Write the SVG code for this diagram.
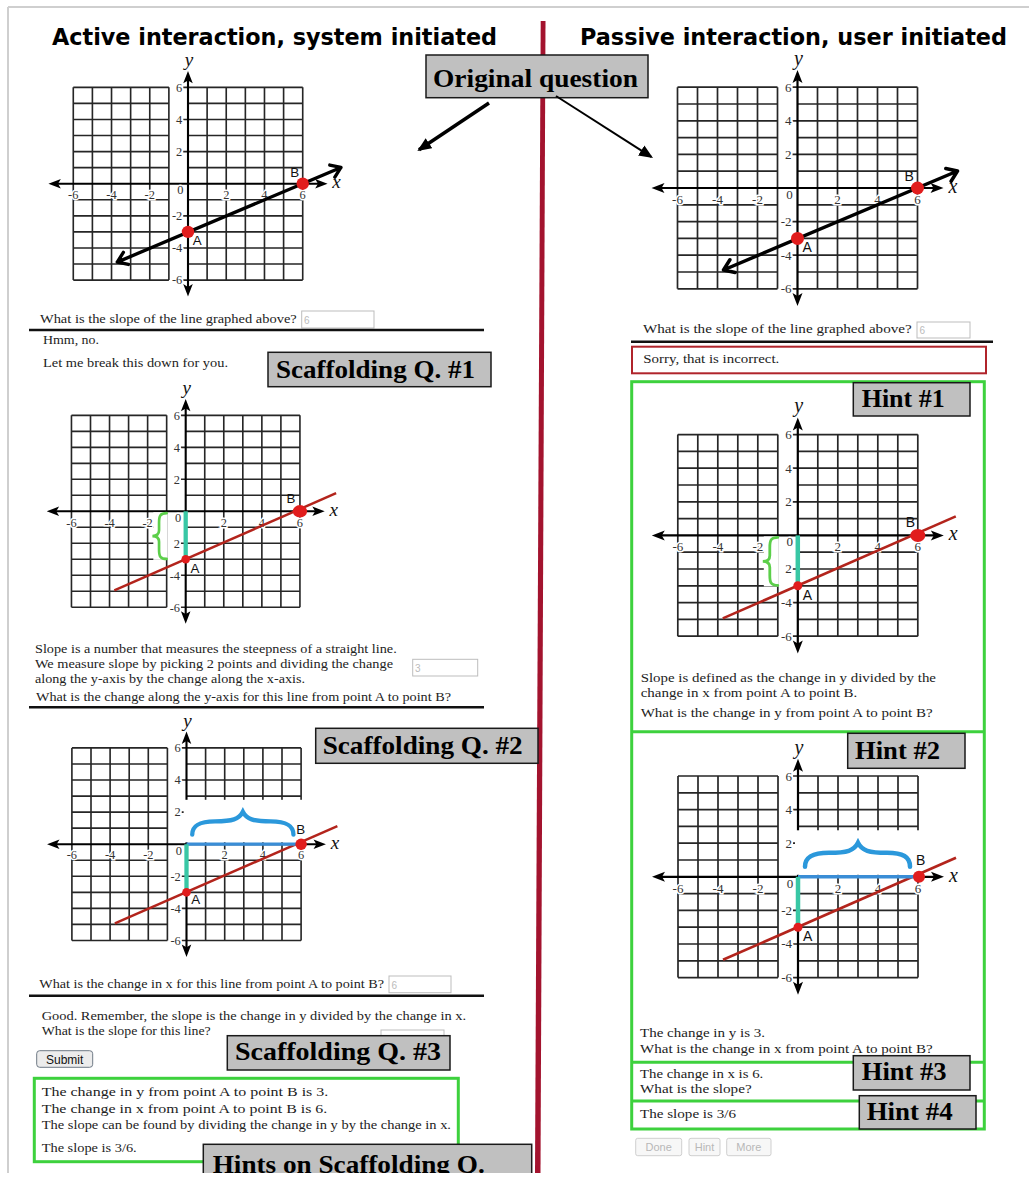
<svg xmlns="http://www.w3.org/2000/svg" xmlns:xlink="http://www.w3.org/1999/xlink" width="1029" height="1178" viewBox="0 0 1029 1178">
<style>
.t{font-family:"Liberation Serif","Times New Roman",serif;font-size:13px;fill:#222}
.tr{font-family:"Liberation Serif","Times New Roman",serif;font-size:13.5px;fill:#222}
.hd{font-family:"DejaVu Sans",Verdana,sans-serif;font-weight:bold;font-size:23px;fill:#000}
.lb{fill:#c0c0c0;stroke:#1a1a1a;stroke-width:1.5}
.lt{font-family:"Liberation Serif","Times New Roman",serif;font-weight:bold;font-size:26px;fill:#000}
.gl{stroke:#262626;stroke-width:1.7;fill:none}
.ax{stroke:#000;stroke-width:2.2;fill:none}
.ah{fill:#000}
.tk{font-family:"Liberation Serif","Times New Roman",serif;font-size:13px;fill:#333;stroke:#fff;stroke-width:3;paint-order:stroke}
.vl{font-family:"Liberation Serif","Times New Roman",serif;font-style:italic;font-size:20px;fill:#111}
.pt{font-family:"Liberation Sans",Arial,sans-serif;font-size:14px;fill:#111}
.sep{stroke:#111;stroke-width:2.5}
.inp{fill:#fff;stroke:#bdbdbd;stroke-width:1}
.iv{font-family:"Liberation Sans",Arial,sans-serif;font-size:10px;fill:#bbb}
.grn{fill:none;stroke:#3dd13d;stroke-width:3}
.red{fill:#e11d1d}
.rl{stroke:#b3241c;stroke-width:2.6;fill:none}
.bl{stroke:#000;stroke-width:3.5;fill:none;stroke-linecap:round;stroke-linejoin:round}
.teal{stroke:#38c7a5;stroke-width:4.5}
.blue{stroke:#3a8dd6;stroke-width:3.5}
.gbr{fill:none;stroke:#5ccf4a;stroke-width:2.8;stroke-linecap:round}
.bbr{fill:none;stroke:#2b98db;stroke-width:4.5;stroke-linecap:round}
.btn{fill:#f7f7f7;stroke:#cfcfcf;stroke-width:1}
.bt{font-family:"Liberation Sans",Arial,sans-serif;font-size:11px;fill:#b8b8b8}
.conn{stroke:#000;fill:none}
</style>
<defs>
<marker id="arr" markerUnits="userSpaceOnUse" markerWidth="14" markerHeight="12" viewBox="0 0 14 12" refX="12" refY="6" orient="auto">
<path d="M0 0L14 6L0 12Z" fill="#000"/>
</marker>
<clipPath id="pageclip"><rect x="0" y="0" width="1029" height="1173"/></clipPath>
<g id="gridbase">
<path class="gl" d="M-120 -100.8V100.8M-100 -100.8V100.8M-80 -100.8V100.8M-60 -100.8V100.8M-40 -100.8V100.8M-20 -100.8V100.8M20 -100.8V100.8M40 -100.8V100.8M60 -100.8V100.8M80 -100.8V100.8M100 -100.8V100.8M120 -100.8V100.8M-120 -100.8H-20M0 -100.8H120M-120 -84H-20M0 -84H120M-120 -67.2H-20M0 -67.2H120M-120 -50.4H-20M0 -50.4H120M-120 -33.6H-20M0 -33.6H120M-120 -16.8H-20M0 -16.8H120M-120 16.8H-20M0 16.8H120M-120 33.6H-20M0 33.6H120M-120 50.4H-20M0 50.4H120M-120 67.2H-20M0 67.2H120M-120 84H-20M0 84H120M-120 100.8H-20M0 100.8H120M-5 -100.8H0M-5 -67.2H0M-5 -33.6H0M-5 33.6H0M-5 67.2H0M-5 100.8H0"/>
<path class="ax" d="M-138 0H138M0 -110V110"/>
<path class="ah" d="M-146 0L-133 -5L-136 0L-133 5ZM146 0L133 -5L136 0L133 5ZM0 -118L-5 -105L0 -108L5 -105ZM0 118L-5 105L0 108L5 105Z"/>
<g class="tk" text-anchor="end">
<text x="-6" y="-96.3">6</text><text x="-6" y="-62.7">4</text><text x="-6" y="-29.1">2</text><text x="-6" y="71.7">-4</text><text x="-6" y="105.3">-6</text>
</g>
<g class="tk" text-anchor="middle">
<text x="-120" y="16">-6</text><text x="-80" y="16">-4</text><text x="-40" y="16">-2</text><text x="40" y="16">2</text><text x="80" y="16">4</text><text x="120" y="16">6</text><text x="-8" y="11">0</text>
</g>
<text class="vl" x="1" y="-123" text-anchor="middle">y</text>
<text class="vl" x="151" y="5">x</text>
</g>
</defs>

<rect x="0" y="0" width="1029" height="1178" fill="#fff"/>

<g id="frame">
<path d="M8 7H1029M8 7V1173" stroke="#cfcfcf" stroke-width="2" fill="none"/>
</g>

<g id="divider">
<polygon points="540.7,21 545.5,21 540.5,1173 535,1173" fill="#a3132e"/>
</g>

<g id="heading-left"><text class="hd" x="52" y="45" textLength="445" lengthAdjust="spacingAndGlyphs">Active interaction, system initiated</text></g>
<g id="heading-right"><text class="hd" x="580" y="45" textLength="427" lengthAdjust="spacingAndGlyphs">Passive interaction, user initiated</text></g>

<!-- LEFT PANEL -->
<g id="graph-original-left" transform="translate(188,183.7) scale(0.956)">
<use href="#gridbase" xlink:href="#gridbase"/>
<text class="tk" x="-6" y="38.1" text-anchor="end">-2</text>
<path class="bl" d="M-74 82L160 -17M-62.3 84.5L-74 82L-67.6 71.8M148.3 -19.5L160 -17L153.6 -6.8"/>
<circle class="red" cx="0" cy="50.4" r="6.5"/>
<circle class="red" cx="120" cy="0" r="6.5"/>
<text class="pt" x="5" y="64">A</text>
<text class="pt" x="107" y="-7">B</text>
</g>

<g id="question-left">
<text class="t" x="40" y="323.3" textLength="256.7" lengthAdjust="spacingAndGlyphs">What is the slope of the line graphed above?</text>
<rect class="inp" x="301.7" y="311" width="72.3" height="17"/>
<text class="iv" x="304" y="323.5">6</text>
<line class="sep" x1="29" y1="330" x2="484" y2="330"/>
<text class="t" x="43" y="344.3" textLength="56" lengthAdjust="spacingAndGlyphs">Hmm, no.</text>
<text class="t" x="43" y="367" textLength="185" lengthAdjust="spacingAndGlyphs">Let me break this down for you.</text>
</g>

<g id="label-scaffold-1">
<rect class="lb" x="268" y="352.3" width="223" height="34.4"/>
<text class="lt" x="276" y="378" textLength="199" lengthAdjust="spacingAndGlyphs">Scaffolding Q. #1</text>
</g>

<g id="graph-scaffold-1" transform="translate(185.7,511.3) scale(0.952)">
<use href="#gridbase" xlink:href="#gridbase"/>
<rect x="-34" y="1" width="15" height="50" fill="#fff"/>
<text class="tk" x="-6" y="38.1" text-anchor="end">2</text>
<path class="rl" d="M-75 83L158 -19"/>
<line class="teal" x1="0" y1="0" x2="0" y2="50.4"/>
<path class="gbr" d="M-20 2C-27 2 -28 5 -28 12L-28 20C-28 24 -30 26 -35 26C-30 26 -28 28 -28 32L-28 40C-28 47 -27 50 -20 50"/>
<circle class="red" cx="0" cy="50.4" r="4.5"/>
<ellipse class="red" cx="120" cy="0" rx="7.5" ry="6.5"/>
<text class="pt" x="5" y="64.5">A</text>
<text class="pt" x="106" y="-8.5">B</text>
</g>

<g id="text-scaffold-1">
<text class="t" x="35" y="653.3" textLength="361.7" lengthAdjust="spacingAndGlyphs">Slope is a number that measures the steepness of a straight line.</text>
<text class="t" x="35" y="668.3" textLength="358" lengthAdjust="spacingAndGlyphs">We measure slope by picking 2 points and dividing the change</text>
<text class="t" x="35" y="683.3" textLength="270" lengthAdjust="spacingAndGlyphs">along the y-axis by the change along the x-axis.</text>
<text class="t" x="36" y="700.7" textLength="415" lengthAdjust="spacingAndGlyphs">What is the change along the y-axis for this line from point A to point B?</text>
<rect class="inp" x="412.7" y="659.3" width="65" height="16.7"/>
<text class="iv" x="415" y="672">3</text>
<line class="sep" x1="29" y1="707.3" x2="484" y2="707.3"/>
</g>

<g id="graph-scaffold-2" transform="translate(186.5,844.2) scale(0.955)">
<use href="#gridbase" xlink:href="#gridbase"/>
<rect x="-3" y="-46.5" width="130" height="44.5" fill="#fff"/>
<text class="tk" x="-6" y="38.1" text-anchor="end">-2</text>
<path class="rl" d="M-75 83L158 -19"/>
<line class="blue" x1="0" y1="0" x2="120" y2="0"/>
<line class="teal" x1="0" y1="0" x2="0" y2="50.4"/>
<path class="bbr" d="M6 -10C6 -20 14 -24 30 -24C48 -24 55 -26 59 -34C63 -26 70 -24 88 -24C104 -24 112 -20 112 -10"/>
<circle class="red" cx="0" cy="50.4" r="4.5"/>
<circle class="red" cx="120" cy="0" r="6"/>
<text class="pt" x="5" y="63">A</text>
<text class="pt" x="115" y="-10.5">B</text>
</g>

<g id="label-scaffold-2">
<rect class="lb" x="315.7" y="728.3" width="222.3" height="35"/>
<text class="lt" x="322.7" y="754.3" textLength="200" lengthAdjust="spacingAndGlyphs">Scaffolding Q. #2</text>
</g>

<g id="text-scaffold-2">
<text class="t" x="39.3" y="988.3" textLength="344.7" lengthAdjust="spacingAndGlyphs">What is the change in x for this line from point A to point B?</text>
<rect class="inp" x="389" y="976" width="62" height="16.7"/>
<text class="iv" x="391.5" y="988.5">6</text>
<line class="sep" x1="29" y1="995.7" x2="484" y2="995.7"/>
</g>

<g id="text-scaffold-3">
<text class="t" x="41.7" y="1020" textLength="424.3" lengthAdjust="spacingAndGlyphs">Good. Remember, the slope is the change in y divided by the change in x.</text>
<text class="t" x="41.7" y="1035" textLength="169" lengthAdjust="spacingAndGlyphs">What is the slope for this line?</text>
<rect class="inp" x="381" y="1030" width="63" height="16"/>
</g>

<g id="button-submit">
<rect x="36.7" y="1050.7" width="56" height="16.6" rx="3" fill="#ececec" stroke="#6f7a86" stroke-width="1"/>
<text x="64.7" y="1063.5" text-anchor="middle" font-family="Liberation Sans, Arial, sans-serif" font-size="12" fill="#111">Submit</text>
</g>

<g id="label-scaffold-3">
<rect class="lb" x="227.3" y="1035.7" width="222.7" height="34.3"/>
<text class="lt" x="235" y="1060" textLength="206" lengthAdjust="spacingAndGlyphs">Scaffolding Q. #3</text>
</g>

<g id="hints-scaffold">
<rect class="grn" x="34.3" y="1078.3" width="424" height="83.4"/>
<text class="t" x="41.7" y="1096" textLength="286.6" lengthAdjust="spacingAndGlyphs">The change in y from point A to point B is 3.</text>
<text class="t" x="41.7" y="1112.7" textLength="285.6" lengthAdjust="spacingAndGlyphs">The change in x from point A to point B is 6.</text>
<text class="t" x="41.7" y="1129.3" textLength="409.3" lengthAdjust="spacingAndGlyphs">The slope can be found by dividing the change in y by the change in x.</text>
<text class="t" x="41.7" y="1151.7" textLength="95" lengthAdjust="spacingAndGlyphs">The slope is 3/6.</text>
</g>

<g id="label-hints-scaffold" clip-path="url(#pageclip)">
<rect class="lb" x="203.3" y="1144.3" width="328.4" height="40"/>
<text class="lt" x="212.7" y="1173" textLength="272" lengthAdjust="spacingAndGlyphs">Hints on Scaffolding Q.</text>
</g>

<!-- RIGHT PANEL -->
<g id="graph-original-right" transform="translate(797.5,188)">
<use href="#gridbase" xlink:href="#gridbase"/>
<text class="tk" x="-6" y="38.1" text-anchor="end">-2</text>
<path class="bl" d="M-74 82L160 -17M-62.3 84.5L-74 82L-67.6 71.8M148.3 -19.5L160 -17L153.6 -6.8"/>
<circle class="red" cx="0" cy="50.4" r="6.5"/>
<circle class="red" cx="120" cy="0" r="6.5"/>
<text class="pt" x="5" y="64">A</text>
<text class="pt" x="107" y="-7">B</text>
</g>

<g id="question-right">
<text class="tr" x="643" y="333" textLength="268.7" lengthAdjust="spacingAndGlyphs">What is the slope of the line graphed above?</text>
<rect class="inp" x="917" y="322" width="53" height="16"/>
<text class="iv" x="919.5" y="334">6</text>
<line class="sep" x1="631" y1="341.7" x2="993" y2="341.7"/>
<rect x="632" y="346.7" width="354" height="26.6" fill="#fff" stroke="#b0242b" stroke-width="2"/>
<text class="tr" x="643.3" y="363" textLength="136" lengthAdjust="spacingAndGlyphs">Sorry, that is incorrect.</text>
</g>

<g id="hint-panel">
<rect class="grn" x="631.7" y="381.7" width="352.6" height="747.3"/>
<path class="grn" d="M631.7 731.7H984.3M631.7 1062.3H984.3M631.7 1101H984.3"/>
</g>

<g id="graph-hint-1" transform="translate(797.8,535.4)">
<use href="#gridbase" xlink:href="#gridbase"/>
<rect x="-34" y="1" width="15" height="50" fill="#fff"/>
<text class="tk" x="-6" y="38.1" text-anchor="end">2</text>
<path class="rl" d="M-75 83L158 -19"/>
<line class="teal" x1="0" y1="0" x2="0" y2="50.4"/>
<path class="gbr" d="M-20 2C-27 2 -28 5 -28 12L-28 20C-28 24 -30 26 -35 26C-30 26 -28 28 -28 32L-28 40C-28 47 -27 50 -20 50"/>
<circle class="red" cx="0" cy="50.4" r="4.5"/>
<ellipse class="red" cx="120" cy="0" rx="7.5" ry="6.5"/>
<text class="pt" x="5" y="64.5">A</text>
<text class="pt" x="108" y="-8.5">B</text>
</g>

<g id="label-hint-1">
<rect class="lb" x="853.3" y="382.7" width="116.7" height="33.3"/>
<text class="lt" x="861.7" y="406.7" textLength="83" lengthAdjust="spacingAndGlyphs">Hint #1</text>
</g>

<g id="text-hint-1">
<text class="tr" x="640.7" y="681.7" textLength="295.3" lengthAdjust="spacingAndGlyphs">Slope is defined as the change in y divided by the</text>
<text class="tr" x="640.7" y="697.3" textLength="216.6" lengthAdjust="spacingAndGlyphs">change in x from point A to point B.</text>
<text class="tr" x="640.7" y="716.7" textLength="292" lengthAdjust="spacingAndGlyphs">What is the change in y from point A to point B?</text>
</g>

<g id="graph-hint-2" transform="translate(798,876.8)">
<use href="#gridbase" xlink:href="#gridbase"/>
<rect x="-3" y="-46.5" width="130" height="44.5" fill="#fff"/>
<text class="tk" x="-6" y="38.1" text-anchor="end">-2</text>
<path class="rl" d="M-75 83L158 -19"/>
<line class="blue" x1="0" y1="0" x2="120" y2="0"/>
<line class="teal" x1="0" y1="0" x2="0" y2="50.4"/>
<path class="bbr" d="M7 -10C7 -20 15 -24 31 -24C49 -24 56 -26 60 -34C64 -26 71 -24 89 -24C105 -24 112 -20 112 -10"/>
<circle class="red" cx="0" cy="50.4" r="4.5"/>
<circle class="red" cx="121" cy="0" r="6"/>
<text class="pt" x="5" y="64.5">A</text>
<text class="pt" x="118" y="-11.5">B</text>
</g>

<g id="label-hint-2">
<rect class="lb" x="847.7" y="733.3" width="117.3" height="35"/>
<text class="lt" x="855" y="759.3" textLength="85" lengthAdjust="spacingAndGlyphs">Hint #2</text>
</g>

<g id="text-hint-2">
<text class="tr" x="640" y="1037.3" textLength="125" lengthAdjust="spacingAndGlyphs">The change in y is 3.</text>
<text class="tr" x="640" y="1053.3" textLength="292.7" lengthAdjust="spacingAndGlyphs">What is the change in x from point A to point B?</text>
</g>

<g id="text-hint-3">
<text class="tr" x="640" y="1078.3" textLength="123.3" lengthAdjust="spacingAndGlyphs">The change in x is 6.</text>
<text class="tr" x="640" y="1093.3" textLength="111.7" lengthAdjust="spacingAndGlyphs">What is the slope?</text>
</g>

<g id="text-hint-4">
<text class="tr" x="640" y="1118.3" textLength="96" lengthAdjust="spacingAndGlyphs">The slope is 3/6</text>
</g>

<g id="label-hint-3">
<rect class="lb" x="853.3" y="1055.7" width="116.7" height="34.3"/>
<text class="lt" x="861.7" y="1080" textLength="85" lengthAdjust="spacingAndGlyphs">Hint #3</text>
</g>

<g id="label-hint-4">
<rect class="lb" x="859.3" y="1095.7" width="116.7" height="33.3"/>
<text class="lt" x="866.7" y="1120" textLength="86" lengthAdjust="spacingAndGlyphs">Hint #4</text>
</g>

<g id="buttons-right">
<rect class="btn" x="635.7" y="1138.3" width="46" height="17.4" rx="2"/>
<text class="bt" x="658.7" y="1151.3" text-anchor="middle">Done</text>
<rect class="btn" x="689" y="1138.3" width="31" height="17.4" rx="2"/>
<text class="bt" x="704.5" y="1151.3" text-anchor="middle">Hint</text>
<rect class="btn" x="726.7" y="1138.3" width="44.3" height="17.4" rx="2"/>
<text class="bt" x="748.8" y="1151.3" text-anchor="middle">More</text>
</g>

<g id="label-original">
<rect class="lb" x="426" y="55" width="222" height="42.7"/>
<text class="lt" x="433" y="87" textLength="205" lengthAdjust="spacingAndGlyphs">Original question</text>
</g>

<g id="connectors">
<line class="conn" x1="489" y1="103" x2="419" y2="149.8" stroke-width="3.5" marker-end="url(#arr)"/>
<line class="conn" x1="556" y1="96" x2="651.3" y2="156.9" stroke-width="2" marker-end="url(#arr)"/>
</g>
</svg>
